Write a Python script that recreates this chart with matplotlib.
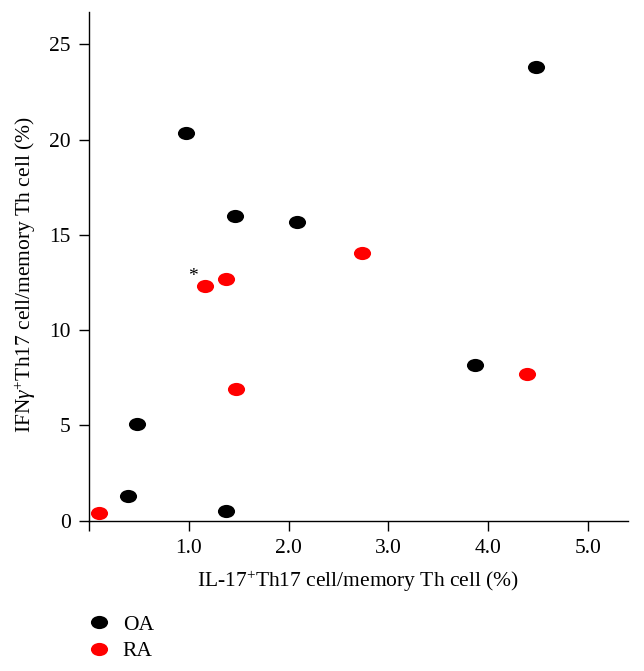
import matplotlib.pyplot as plt
from matplotlib.markers import MarkerStyle
from matplotlib.transforms import Affine2D
from matplotlib.lines import Line2D

plt.rcParams['font.family'] = ['Liberation Serif', 'DejaVu Serif']
plt.rcParams['mathtext.fontset'] = 'custom'
plt.rcParams['mathtext.rm'] = 'Liberation Serif'
plt.rcParams['mathtext.it'] = 'Liberation Serif:italic'

# OA group
oa_x = [4.48, 0.97, 1.46, 2.09, 3.87, 0.48, 0.39, 1.37]
oa_y = [23.8, 20.35, 16.0, 15.7, 8.15, 5.1, 1.3, 0.5]
# RA group
ra_x = [2.74, 1.37, 1.16, 1.47, 4.39, 0.10]
ra_y = [14.05, 12.7, 12.3, 6.9, 7.7, 0.4]

groups = ["OA", "RA"]
colors = ["black", "#ff0000"]

xticks = [0, 1, 2, 3, 4, 5]
xtick_labels = ["", "1.0", "2.0", "3.0", "4.0", "5.0"]
yticks = [0, 5, 10, 15, 20, 25]

fs = 15.5

fig = plt.figure(figsize=(6.44, 6.71), dpi=100)
ax = fig.add_axes((0.138, 0.224, 0.837, 0.758))

ell = MarkerStyle('o', transform=Affine2D().scale(1.3, 1.0))
ax.scatter(oa_x, oa_y, s=90, marker=ell, color=colors[0], linewidths=0, zorder=3)
ax.scatter(ra_x, ra_y, s=90, marker=ell, color=colors[1], linewidths=0, zorder=3)

# significance mark next to one RA point
ax.annotate("*", (ra_x[2], ra_y[2]), xytext=(-8.5, 7), textcoords="offset points",
            ha="center", va="center", fontsize=14)

ax.set_xlim(0, 5.4)
ax.set_ylim(0, 26.7)
ax.set_xticks(xticks)
ax.set_xticklabels(xtick_labels)
ax.set_yticks(yticks)
for side in ("top", "right"):
    ax.spines[side].set_visible(False)
for side in ("left", "bottom"):
    ax.spines[side].set_linewidth(1.0)
ax.tick_params(direction="out", length=7, width=1.0, labelsize=fs, pad=6)

ax.set_xlabel("IL-17$^{+}$Th17 cell/memory Th cell (%)", fontsize=fs, labelpad=8)
ax.set_ylabel("IFN$\\gamma^{+}$Th17 cell/memory Th cell (%)", fontsize=fs)
ax.yaxis.set_label_coords(-0.095, 0.483)

handles = [Line2D([], [], linestyle="none", marker=ell, markersize=9.5,
                  markerfacecolor=c, markeredgewidth=0) for c in colors]
fig.legend(handles, groups, loc="upper left", bbox_to_anchor=(0.137, 0.084),
           frameon=False, fontsize=fs, labelspacing=0.3, handlelength=1.0,
           handletextpad=0.6, borderaxespad=0, borderpad=0)

fig.savefig("out.png", dpi=100)
